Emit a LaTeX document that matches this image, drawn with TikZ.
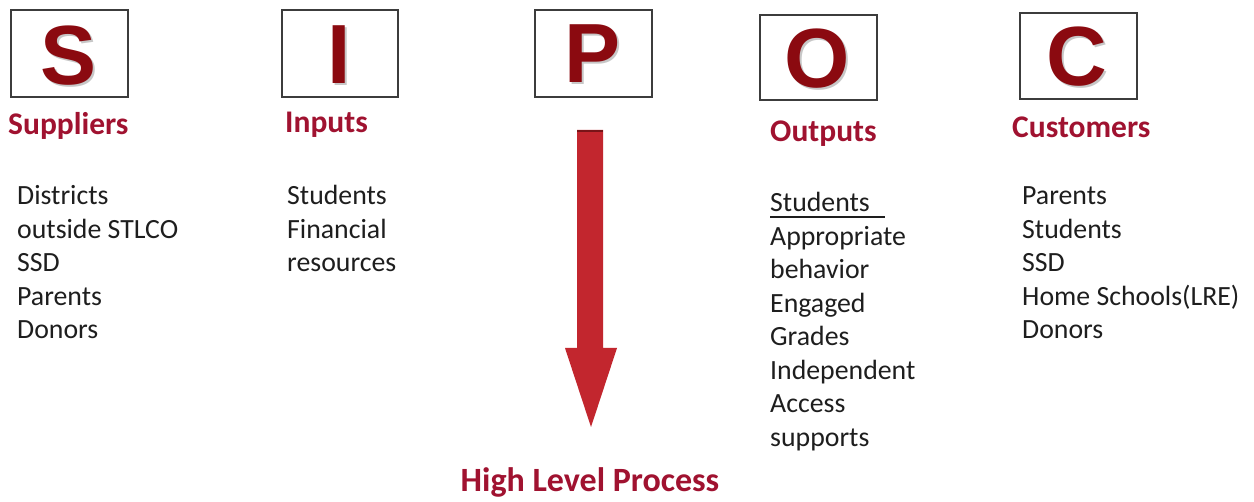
\documentclass[tikz,border=0pt]{standalone}
\usepackage{fontspec}
\setmainfont{Carlito}
\newfontfamily\arialb{Liberation Sans}
\definecolor{letterred}{RGB}{139,10,16}
\definecolor{labelred}{RGB}{160,18,48}
\definecolor{arrowred}{RGB}{194,38,46}
\definecolor{arrowdark}{RGB}{120,20,24}
\definecolor{boxgray}{RGB}{60,60,60}
\definecolor{bodytext}{RGB}{30,30,30}
\tikzset{
  letterbox/.style={draw=boxgray, line width=1.5pt, fill=white},
  bigletter/.style={inner sep=0pt, text=letterred, font=\arialb\fontsize{84}{84}\selectfont\bfseries},
  shadowletter/.style={inner sep=0pt, text=black!22, font=\arialb\fontsize{84}{84}\selectfont\bfseries},
  label/.style={inner sep=0pt, anchor=base west, text=labelred, font=\fontsize{31.5}{31.5}\selectfont\bfseries},
  body/.style={inner sep=0pt, anchor=base west, text=bodytext, font=\fontsize{27.8}{27.8}\selectfont},
}
\begin{document}
\begin{tikzpicture}[x=1pt,y=-1pt]
\useasboundingbox[fill=white] (0,0) rectangle (1254,502);
% boxes
\draw[letterbox] (11,10) rectangle (128,97);
\draw[letterbox] (282,10) rectangle (398,97);
\draw[letterbox] (535,10) rectangle (652,97);
\draw[letterbox] (760,15) rectangle (877,100);
\draw[letterbox] (1020,13) rectangle (1137,99);
% letters (shadow + letter)
\foreach \n/\l/\x/\y in {S/S/69/56, I/I/339/55, P/P/593/54, O/O/817/59, C/C/1077/57}{
  \node[shadowletter] at (\x+1.8,\y+1.8) {\l};
  \node[bigletter] (letter\n) at (\x,\y) {\l};
}
% headings
\node[label] (supL) at (8,135) {Suppliers};
\node[label] (inpL) at (285,133) {Inputs};
\node[label] (outL) at (770,142) {Outputs};
\node[label] (cusL) at (1012,138) {Customers};
% suppliers list
\foreach \t [count=\i] in {Districts, outside STLCO, SSD, Parents, Donors}{
  \node[body] (sup\i) at (17,{205+33.5*(\i-1)}) {\t};
}
% inputs list
\foreach \t [count=\i] in {Students, Financial, resources}{
  \node[body] (inp\i) at (287,{205+33.5*(\i-1)}) {\t};
}
% outputs list
\node[body] (out0) at (770,212) {Students};
\foreach \t [count=\i] in {Appropriate, behavior, Engaged, Grades, Independent, Access, supports}{
  \node[body] (out\i) at (770,{212+33.5*\i}) {\t};
}
\draw[bodytext, line width=1.2pt] (out0.base west) ++(0,5) -- ++(115,0);
% customers list
\foreach \t [count=\i] in {Parents, Students, SSD, Home Schools(LRE), Donors}{
  \node[body] (cus\i) at (1022,{205+33.5*(\i-1)}) {\t};
}
% big process arrow
\fill[arrowred] (577,130) -- (603,130) -- (603,348) -- (617,348) -- (591,427) -- (565,348) -- (577,348) -- cycle;
\draw[arrowdark, line width=2pt] (577,131) -- (603,131);
% bottom label
\node[inner sep=0pt, anchor=base, text=labelred, font=\fontsize{34}{34}\selectfont\bfseries] (hlp) at (590,492) {High Level Process};
\end{tikzpicture}
\end{document}
